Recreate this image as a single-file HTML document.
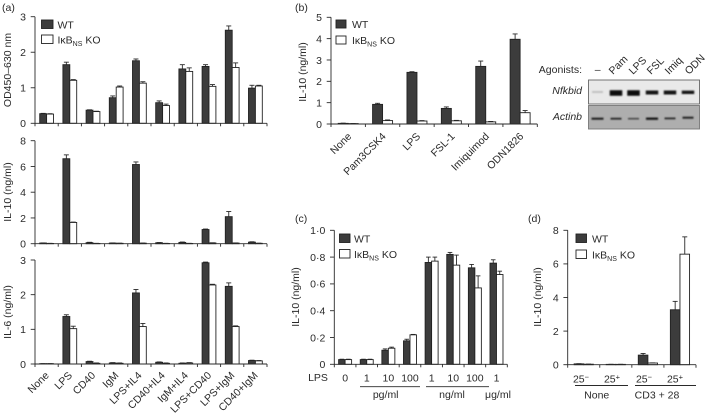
<!DOCTYPE html>
<html>
<head>
<meta charset="utf-8">
<title>IkBNS KO cytokine figure</title>
<style>
html,body{margin:0;padding:0;background:#fff;}
svg{display:block;font-family:"Liberation Sans",sans-serif;font-size:10.5px;fill:#2a2a2a;filter:blur(0.35px);}
</style>
</head>
<body>
<svg id="fig" width="709" height="416" viewBox="0 0 709 416" xmlns="http://www.w3.org/2000/svg">
<defs>
<filter id="soft" x="-30%" y="-80%" width="160%" height="260%"><feGaussianBlur stdDeviation="0.7"/></filter>
</defs>
</svg>
<script>
// Panel (a) categories and values
const stimCategories = ['None','LPS','CD40','IgM','LPS+IL4','CD40+IL4','IgM+IL4','LPS+CD40','LPS+IgM','CD40+IgM'];
const odTicks = [0,1,2,3];
const odWT = [0.27,1.65,0.37,0.72,1.76,0.58,1.53,1.60,2.62,0.99];
const odKO = [0.26,1.21,0.33,1.02,1.13,0.50,1.46,1.04,1.57,1.05];
const odErrWT = [0.01,0.07,0.01,0.05,0.05,0.05,0.12,0.05,0.12,0.08];
const odErrKO = [0.01,0.02,0.01,0.03,0.04,0.04,0.10,0.05,0.13,0.02];
const il10aTicks = [0,2,4,6,8];
const il10aWT = [0.05,6.6,0.08,0.05,6.15,0.07,0.10,1.10,2.10,0.12];
const il10aKO = [0.02,1.65,0.02,0.03,0.04,0.02,0.02,0.06,0.05,0.03];
const il10aErrWT = [0.01,0.3,0.03,0.01,0.2,0.02,0.03,0.04,0.4,0.03];
const il10aErrKO = [0.01,0.03,0.01,0.01,0.01,0.01,0.01,0.01,0.01,0.01];
const il6Ticks = [0,1,2,3];
const il6WT = [0.01,1.37,0.07,0.03,2.05,0.05,0.02,2.92,2.24,0.10];
const il6KO = [0.01,1.02,0.02,0.02,1.08,0.02,0.03,2.28,1.08,0.09];
const il6ErrWT = [0,0.05,0.01,0.01,0.10,0.01,0.01,0.02,0.10,0.01];
const il6ErrKO = [0,0.07,0.01,0.01,0.09,0.01,0.01,0.02,0.02,0.01];
// Panel (b)
const agonistCategories = ['None','Pam3CSK4','LPS','FSL-1','Imiquimod','ODN1826'];
const il10bTicks = [0,1,2,3,4,5];
const il10bWT = [0.03,0.92,2.42,0.73,2.70,3.97];
const il10bKO = [0.02,0.16,0.14,0.15,0.10,0.53];
const il10bErrWT = [0.01,0.05,0.03,0.07,0.25,0.25];
const il10bErrKO = [0,0.03,0.02,0.02,0.02,0.10];
// Panel (c)
const doseCategories = ['0','1','10','100','1','10','100','1'];
const il10cTicks = ['0','0·2','0·4','0·6','0·8','1·0'];
const il10cWT = [0.035,0.035,0.105,0.175,0.76,0.82,0.72,0.755];
const il10cKO = [0.035,0.035,0.12,0.22,0.77,0.74,0.57,0.67];
const il10cErrWT = [0.003,0.003,0.01,0.012,0.04,0.015,0.025,0.025];
const il10cErrKO = [0.003,0.003,0.008,0.003,0.03,0.075,0.09,0.025];
// Panel (d)
const il10dTicks = [0,2,4,6,8];
const il10dWT = [0.05,0.02,0.57,3.27];
const il10dKO = [0.03,0.02,0.10,6.58];
const il10dErrWT = [0.01,0.005,0.1,0.5];
const il10dErrKO = [0.005,0.005,0.01,1.03];

const NS = 'http://www.w3.org/2000/svg';
const fig = document.getElementById('fig');

function line(parent, x1, y1, x2, y2, w, name) {
  const el = document.createElementNS(NS, 'line');
  el.setAttribute('x1', x1);
  el.setAttribute('y1', y1);
  el.setAttribute('x2', x2);
  el.setAttribute('y2', y2);
  el.setAttribute('stroke', '#2a2a2a');
  el.setAttribute('stroke-width', w || 0.9);
  
  
  parent.appendChild(el);
  return el;
}
function rect(parent, x, y, w, h, fill, name) {
  const el = document.createElementNS(NS, 'rect');
  el.setAttribute('x', x);
  el.setAttribute('y', y);
  el.setAttribute('width', w);
  el.setAttribute('height', h);
  el.setAttribute('fill', fill);
  el.setAttribute('stroke', '#222');
  el.setAttribute('stroke-width', 0.9);
  
  
  parent.appendChild(el);
  return el;
}
function text(parent, x, y, str, anchor, name, rot, extra) {
  const el = document.createElementNS(NS, 'text');
  el.setAttribute('x', x);
  el.setAttribute('y', y);
  el.setAttribute('text-anchor', anchor || 'start');
  if (rot) el.setAttribute('transform', 'rotate(' + rot + ' ' + x + ' ' + y + ')');
  if (extra) el.setAttribute('font-style', extra);
  el.textContent = str;
  
  
  parent.appendChild(el);
  return el;
}
function group(name) {
  const el = document.createElementNS(NS, 'g');
  
  
  fig.appendChild(el);
  return el;
}
function koLabel(parent, x, y) {
  const el = document.createElementNS(NS, 'text');
  el.setAttribute('x', x);
  el.setAttribute('y', y);
  
  
  const a = document.createElementNS(NS, 'tspan');
  a.textContent = 'IκB';
  el.appendChild(a);
  const b = document.createElementNS(NS, 'tspan');
  b.setAttribute('dy', '2.5');
  b.setAttribute('font-size', '7px');
  b.textContent = 'NS';
  el.appendChild(b);
  const c = document.createElementNS(NS, 'tspan');
  c.setAttribute('dy', '-2.5');
  c.textContent = ' KO';
  el.appendChild(c);
  parent.appendChild(el);
}
function legend(parent, x, y1, y2, w, h, tx) {
  rect(parent, x, y1, w, h, '#3c3c3c', 'legend-swatch-wt');
  text(parent, tx, y1 + h, 'WT', 'start', 'legend-label-wt');
  rect(parent, x, y2, w, h, '#fff', 'legend-swatch-ko');
  koLabel(parent, tx, y2 + h);
}
function panel(o) {
  const g = group(o.name);
  const yScale = v => o.y0 - (v / o.max) * (o.y0 - o.yTop);
  const step = (o.x1 - o.x0) / o.wt.length;
  const groupX = i => o.x0 + step * i;
  // bars
  o.wt.forEach((v, i) => {
    const c = groupX(i) + step / 2 + (o.shift || 0);
    const yW = yScale(v), yK = yScale(o.ko[i]);
    const eW = yScale(v + o.errWt[i]), eK = yScale(o.ko[i] + o.errKo[i]);
    line(g, c - o.barW / 2, yW, c - o.barW / 2, eW, 0.9, 'error-bar-wt');
    line(g, c - o.barW / 2 - o.cap, eW, c - o.barW / 2 + o.cap, eW, 0.9, 'error-cap-wt');
    line(g, c + o.barW / 2, yK, c + o.barW / 2, eK, 0.9, 'error-bar-ko');
    line(g, c + o.barW / 2 - o.cap, eK, c + o.barW / 2 + o.cap, eK, 0.9, 'error-cap-ko');
    rect(g, c - o.barW, yW, o.barW, o.y0 - yW, '#3c3c3c', 'bar-wt');
    rect(g, c, yK, o.barW, o.y0 - yK, '#fff', 'bar-ko');
  });
  // axes
  line(g, o.x0, o.y0, o.x0, o.yTop, 0.9, 'y-axis');
  line(g, o.x0, o.y0, o.x1, o.y0, 0.9, 'x-axis');
  o.ticks.forEach(t => {
    const y = yScale(parseFloat(String(t).replace('·', '.')));
    line(g, o.x0 - 4.3, y, o.x0, y, 0.9, 'y-tick');
    text(g, o.x0 - 9, y + 3.8, t, 'end', 'y-tick-label');
  });
  for (let i = 0; i <= o.wt.length; i++) {
    line(g, groupX(i), o.y0, groupX(i), o.y0 + 3, 0.9, 'x-tick');
  }
  if (o.labels) {
    o.labels.forEach((l, i) => {
      const x = groupX(i) + step / 2 + (o.lx || 0);
      text(g, x, o.y0 + (o.ly || 13), l, o.rot ? 'end' : 'middle', 'x-tick-label', o.rot || 0);
    });
  }
  text(g, o.titleX, o.titleY, o.title, 'middle', 'y-axis-title', -90);
  return g;
}

text(fig, 2, 11, '(a)', 'start', 'panel-label-a');
text(fig, 295, 11, '(b)', 'start', 'panel-label-b');
text(fig, 295, 222, '(c)', 'start', 'panel-label-c');
text(fig, 528, 222, '(d)', 'start', 'panel-label-d');

const pa1 = panel({name:'panel-a-od', x0:35, x1:267, y0:123.3, yTop:16.7, max:3, wt:odWT, ko:odKO, errWt:odErrWT, errKo:odErrKO, ticks:odTicks, barW:6.9, cap:2.5, title:'OD450–630 nm', titleX:11, titleY:70});
legend(pa1, 41.5, 20, 35, 11.5, 8.5, 57.5);
panel({name:'panel-a-il10', x0:35, x1:267, y0:243.7, yTop:140.7, max:8, wt:il10aWT, ko:il10aKO, errWt:il10aErrWT, errKo:il10aErrKO, ticks:il10aTicks, barW:6.9, cap:2.5, title:'IL-10 (ng/ml)', titleX:11, titleY:192});
panel({name:'panel-a-il6', x0:35, x1:267, y0:364, yTop:260, max:3, wt:il6WT, ko:il6KO, errWt:il6ErrWT, errKo:il6ErrKO, ticks:il6Ticks, barW:6.9, cap:2.5, labels:stimCategories, rot:-45, lx:3, ly:12, title:'IL-6 (ng/ml)', titleX:11, titleY:312});

const pb = panel({name:'panel-b-il10', x0:331, x1:537.3, y0:124, yTop:17.3, max:5, wt:il10bWT, ko:il10bKO, errWt:il10bErrWT, errKo:il10bErrKO, ticks:il10bTicks, barW:10, cap:2.5, labels:agonistCategories, rot:-45, lx:4, ly:13, title:'IL-10 (ng/ml)', titleX:306, titleY:72});
legend(pb, 336, 20, 36, 10, 8, 352);

const pc = panel({name:'panel-c-il10', x0:334.3, x1:507.3, y0:364.3, yTop:230.3, max:1, wt:il10cWT, ko:il10cKO, errWt:il10cErrWT, errKo:il10cErrKO, ticks:il10cTicks, barW:6.5, cap:2.3, labels:doseCategories, ly:17, title:'IL-10 (ng/ml)', titleX:299, titleY:297});
legend(pc, 339.5, 234, 249.5, 10.5, 8.5, 354);
text(pc, 318, 381, 'LPS', 'middle', 'dose-axis-label');
line(pc, 360, 386.7, 420, 386.7, 0.9, 'pg-ml-bracket');
line(pc, 426, 386.7, 489, 386.7, 0.9, 'ng-ml-bracket');
text(pc, 385.7, 398, 'pg/ml', 'middle', 'pg-ml-label');
text(pc, 452, 398, 'ng/ml', 'middle', 'ng-ml-label');
text(pc, 498, 398, 'μg/ml', 'middle', 'ug-ml-label');

const pd = panel({name:'panel-d-il10', x0:567.7, x1:696, y0:364.7, yTop:230.3, max:8, wt:il10dWT, ko:il10dKO, errWt:il10dErrWT, errKo:il10dErrKO, ticks:il10dTicks, barW:9.6, cap:2.5, title:'IL-10 (ng/ml)', titleX:541, titleY:297});
legend(pd, 576, 234, 250, 10.5, 8.5, 592);
[['25−',581],['25+',612],['25−',644],['25+',675]].forEach(p => {
  const t = document.createElementNS(NS, 'text');
  t.setAttribute('x', p[1]);
  t.setAttribute('y', 382.7);
  t.setAttribute('text-anchor', 'middle');
  
  
  const a = document.createElementNS(NS, 'tspan');
  a.textContent = '25';
  t.appendChild(a);
  const b = document.createElementNS(NS, 'tspan');
  b.setAttribute('dy', '-3');
  b.setAttribute('font-size', '7.5px');
  b.textContent = p[0].slice(2);
  t.appendChild(b);
  pd.appendChild(t);
});
line(pd, 575, 385.5, 628, 385.5, 0.9, 'none-bracket');
line(pd, 635, 385.5, 696, 385.5, 0.9, 'cd3-28-bracket');
text(pd, 596.7, 398.5, 'None', 'middle', 'none-group-label');
text(pd, 657, 398.5, 'CD3 + 28', 'middle', 'cd3-28-group-label');

// Gel inset
const gel = group('agonist-gel-inset');
text(gel, 582, 73, 'Agonists:', 'end', 'agonists-label');
text(gel, 597.7, 73, '–', 'middle', 'lane-label-none');
[['Pam',613],['LPS',633],['FSL',651],['Imiq',669],['ODN',689]].forEach(p => {
  text(gel, p[1], 75, p[0], 'start', 'lane-label', -45);
});
text(gel, 582, 94, 'Nfkbid', 'end', 'gel-row-label-nfkbid', 0, 'italic');
text(gel, 582, 120, 'Actinb', 'end', 'gel-row-label-actinb', 0, 'italic');
const top1 = rect(gel, 588.5, 80, 111, 24, '#e9e9e9', 'gel-nfkbid');
top1.setAttribute('stroke', '#666');
const top2 = rect(gel, 588.5, 105.5, 111, 23.5, '#aeaeae', 'gel-actinb');
top2.setAttribute('stroke', '#777');
[[597.5,11,1.8,92,'#bdbdbd'],[616,12.5,5.5,93,'#0c0c0c'],[633.5,12.5,5.5,93,'#0c0c0c'],[652,12.5,4,92.5,'#141414'],[670,12.5,4,92.5,'#141414'],[688,12.5,3.4,92.3,'#141414']].forEach(b => {
  const r = document.createElementNS(NS, 'rect');
  r.setAttribute('x', b[0] - b[1] / 2);
  r.setAttribute('y', b[3] - b[2] / 2);
  r.setAttribute('width', b[1]);
  r.setAttribute('height', b[2]);
  r.setAttribute('fill', b[4]);
  r.setAttribute('filter', 'url(#soft)');
  
  
  gel.appendChild(r);
});
[[597.5,12,2,118.7,'#1a1a1a'],[616,11,1.8,118.7,'#222'],[633.5,11,1.6,118.7,'#444'],[652,12,2.2,118.7,'#111'],[670,11,1.7,118.4,'#222'],[688,11,2,117.7,'#222']].forEach(b => {
  const r = document.createElementNS(NS, 'rect');
  r.setAttribute('x', b[0] - b[1] / 2);
  r.setAttribute('y', b[3] - b[2] / 2);
  r.setAttribute('width', b[1]);
  r.setAttribute('height', b[2]);
  r.setAttribute('fill', b[4]);
  r.setAttribute('filter', 'url(#soft)');
  
  
  gel.appendChild(r);
});
</script>
</body>
</html>
